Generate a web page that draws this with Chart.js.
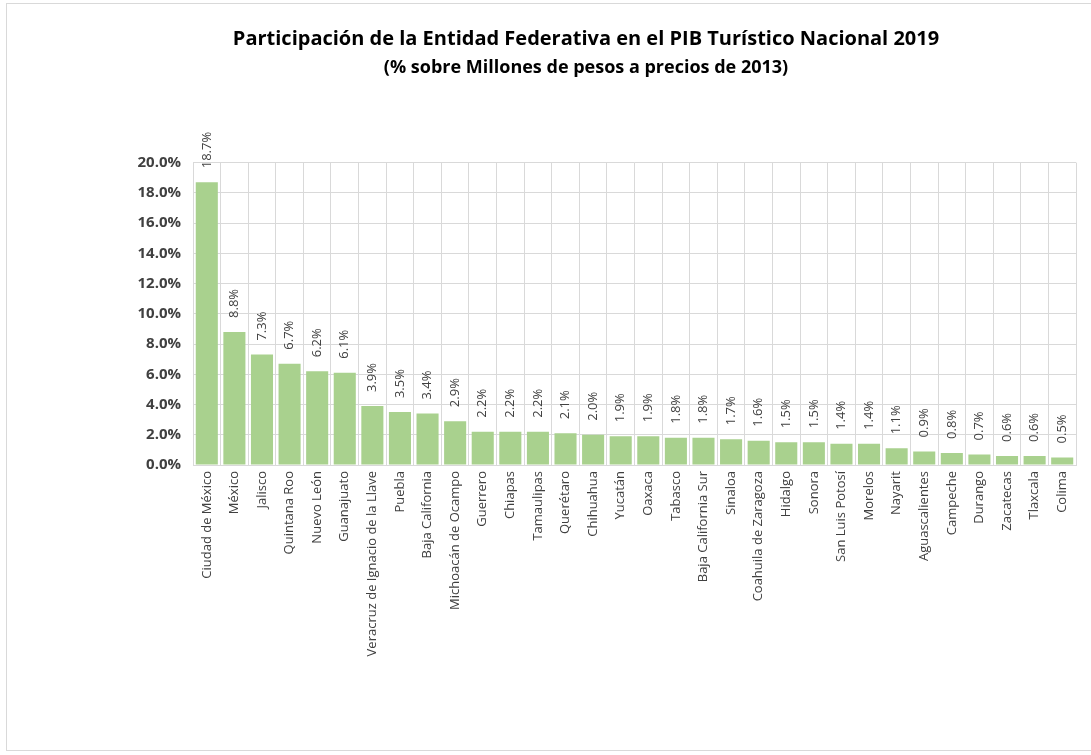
<!DOCTYPE html>
<html>
<head>
<meta charset="utf-8">
<script src="https://cdn.jsdelivr.net/npm/chart.js@4.4.1/dist/chart.umd.min.js"></script>
<style>
  html, body { margin: 0; padding: 0; background: #fff; }
  #frame {
    position: absolute; left: 6px; top: 3px; width: 1090px; height: 748px;
    border: 1px solid #d9d9d9; border-right: none; box-sizing: border-box;
  }
  #wrap { position: absolute; left: 0; top: 0; width: 1091px; height: 755px; }
</style>
</head>
<body>
<div id="frame"></div>
<div id="wrap"><canvas id="pibChart"></canvas></div>
<script>
// Entidades federativas y su participación (%)
const estados = [
    'Ciudad de México', 'México', 'Jalisco', 'Quintana Roo', 'Nuevo León', 'Guanajuato',
    'Veracruz de Ignacio de la Llave', 'Puebla', 'Baja California', 'Michoacán de Ocampo',
    'Guerrero', 'Chiapas', 'Tamaulipas', 'Querétaro', 'Chihuahua', 'Yucatán', 'Oaxaca',
    'Tabasco', 'Baja California Sur', 'Sinaloa', 'Coahuila de Zaragoza', 'Hidalgo', 'Sonora',
    'San Luis Potosí', 'Morelos', 'Nayarit', 'Aguascalientes', 'Campeche', 'Durango',
    'Zacatecas', 'Tlaxcala', 'Colima'
];
const participacion = [
    18.7, 8.8, 7.3, 6.7, 6.2, 6.1, 3.9, 3.5, 3.4, 2.9,
    2.2, 2.2, 2.2, 2.1, 2.0, 1.9, 1.9, 1.8, 1.8, 1.7,
    1.6, 1.5, 1.5, 1.4, 1.4, 1.1, 0.9, 0.8, 0.7, 0.6,
    0.6, 0.5
];
const yTicks = [0, 2, 4, 6, 8, 10, 12, 14, 16, 18, 20];

const titulo = 'Participación de la Entidad Federativa en el PIB Turístico Nacional 2019';
const subtitulo = '(% sobre Millones de pesos a precios de 2013)';

const barColor = '#A9D18E';
const gridColor = '#d9d9d9';
const textColor = '#404040';
const fontFam = "'Open Sans', 'Liberation Sans', sans-serif";

// etiquetas de datos verticales sobre cada barra
const dataLabels = {
    id: 'dataLabels',
    afterDatasetsDraw(chart) {
        const { ctx } = chart;
        const meta = chart.getDatasetMeta(0);
        ctx.save();
        ctx.fillStyle = textColor;
        ctx.font = '13px ' + fontFam;
        ctx.textAlign = 'left';
        ctx.textBaseline = 'middle';
        meta.data.forEach((bar, i) => {
            ctx.save();
            ctx.translate(bar.x, bar.y - 14);
            ctx.rotate(-Math.PI / 2);
            ctx.fillText(participacion[i].toFixed(1) + '%', 0, 0);
            ctx.restore();
        });
        ctx.restore();
    }
};

const ctx = document.getElementById('pibChart').getContext('2d');
new Chart(ctx, {
    type: 'bar',
    data: {
        labels: estados,
        datasets: [{
            data: participacion,
            backgroundColor: barColor,
            barPercentage: 0.8,
            categoryPercentage: 1.0
        }]
    },
    options: {
        responsive: true,
        maintainAspectRatio: false,
        animation: false,
        // padding izquierdo para centrar el título como en el original
        layout: { padding: { left: 96, right: 15, top: 0, bottom: 0 } },
        plugins: {
            legend: { display: false },
            tooltip: { enabled: false },
            title: {
                display: true,
                text: titulo,
                color: '#000',
                font: { family: fontFam, size: 20, weight: 'bold' },
                padding: { top: 27, bottom: 6 }
            },
            subtitle: {
                display: true,
                text: subtitulo,
                color: '#000',
                font: { family: fontFam, size: 18, weight: 'bold' },
                padding: { top: 0, bottom: 84 }
            }
        },
        scales: {
            y: {
                min: 0,
                max: 20,
                afterBuildTicks: (scale) => { scale.ticks = yTicks.map(v => ({ value: v })); },
                afterFit: (scale) => { scale.width = 97; },
                ticks: {
                    color: '#404040',
                    font: { family: fontFam, size: 15, weight: 'bold' },
                    padding: 12,
                    callback: (v) => Number(v).toFixed(1) + '%'
                },
                grid: { color: gridColor, drawTicks: false },
                border: { display: false }
            },
            x: {
                afterFit: (scale) => { scale.height = 290; },
                ticks: {
                    color: textColor,
                    font: { family: fontFam, size: 13 },
                    minRotation: 90,
                    maxRotation: 90,
                    autoSkip: false,
                    padding: 6
                },
                grid: { color: gridColor, drawTicks: false, offset: true },
                border: { color: gridColor }
            }
        }
    },
    plugins: [dataLabels]
});
</script>
</body>
</html>
